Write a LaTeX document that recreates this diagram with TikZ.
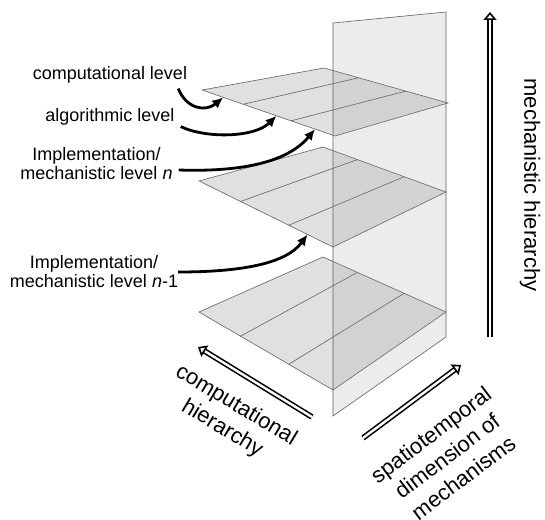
\documentclass[tikz,border=0pt]{standalone}
\usepackage{fontspec}
\setmainfont{Liberation Sans}
\usetikzlibrary{arrows.meta,calc}

\begin{document}
\begin{tikzpicture}[x=1pt,y=-1pt,
  plane/.style={draw=black!62,line width=0.6pt,fill=black!12},
  divline/.style={draw=black!62,line width=0.6pt},
  lbl/.style={inner sep=0pt,align=center,font=\fontsize{18}{19}\selectfont},
  biglbl/.style={inner sep=0pt,align=center,font=\fontsize{22}{27}\selectfont},
  pointer/.style={-{Latex[length=11pt,width=10pt]},line width=2.8pt},
  hier/.style={double,double distance=2.4pt,line width=1.6pt,-{Triangle[open,length=8pt,width=13pt]}}]
\useasboundingbox (0,0) rectangle (545,519);

% the three levels
\foreach \i/\lx/\ly/\tx/\ty/\rx/\ry/\bx/\by in {a/202/90/324/68/448/103/335/136,b/199/181/323/147/446/192/333/247,c/199/312/323/257/446/312/333/390} {
  \coordinate (L\i) at (\lx,\ly);
  \coordinate (T\i) at (\tx,\ty);
  \coordinate (R\i) at (\rx,\ry);
  \coordinate (B\i) at (\bx,\by);
  \filldraw[plane] (L\i) -- (T\i) -- (R\i) -- (B\i) -- cycle;
  \draw[divline] ($(L\i)!0.31!(B\i)$) -- ($(T\i)!0.28!(R\i)$);
  \draw[divline] ($(L\i)!0.67!(B\i)$) -- ($(T\i)!0.66!(R\i)$);
}

% spatiotemporal plane
\filldraw[draw=black!62,line width=0.6pt,fill=black!46,fill opacity=0.16] (333,23) -- (446,12) -- (446,337) -- (333,416) -- cycle;

% labels on the left
\node[lbl] (comp) at (110,75) {computational level};
\node[lbl] (algo) at (110,117) {algorithmic level};
\node[lbl] (impl) at (96.5,164) {Implementation/\\mechanistic level \textit{n}};
\node[lbl] (impllow) at (94,272) {Implementation/\\mechanistic level \textit{n}-1};

\coordinate (tipcomp) at ($(La)!0.16!(Ba)$);
\coordinate (tipalgo) at ($(La)!0.56!(Ba)$);
\coordinate (tipimpl) at ($(La)!0.85!(Ba)$);
\coordinate (tipimpllow) at ($(Lb)!0.81!(Bb)$);

\draw[pointer] ([shift={(-9,5)}]comp.south east) .. controls +(8,20) and +(-18,15) .. (tipcomp);
\draw[pointer] ([shift={(6,1)}]algo.south east) .. controls +(25,12) and +(-22,22) .. (tipalgo);
\draw[pointer] ([shift={(6,6)}]impl.east) .. controls +(60,2) and +(-28,34) .. (tipimpl);
\draw[pointer] (impllow.east) .. controls +(60,0) and +(-22,30) .. (tipimpllow);

% hierarchies
\coordinate (mechfoot) at (490,337);
\coordinate (mechtop) at (490,12);
\coordinate (compfoot) at (312,417);
\coordinate (comptop) at (198,347);
\coordinate (spatfoot) at (363,438);
\coordinate (spattop) at (461,365);
\draw[hier] (mechfoot) -- (mechtop);
\draw[hier] (compfoot) -- (comptop);
\draw[hier] (spatfoot) -- (spattop);

\node[biglbl,rotate=-90] (mech) at (530,185) {mechanistic hierarchy};
\node[biglbl,rotate=-31] (comphier) at (229,417) {computational\\hierarchy};
\node[biglbl,rotate=37] (spat) at (447,456) {spatiotemporal\\dimension of\\mechanisms};
\end{tikzpicture}
\end{document}
